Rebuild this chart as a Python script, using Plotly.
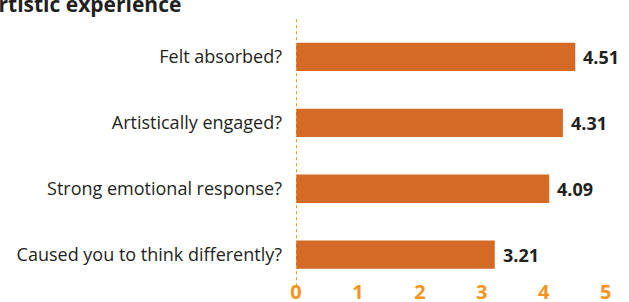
import plotly.graph_objects as go

categories = ["Caused you to think differently?", "Strong emotional response?",
              "Artistically engaged?", "Felt absorbed?"]
values = [3.21, 4.09, 4.31, 4.51]
value_labels = ["3.21", "4.09", "4.31", "4.51"]
tick_vals = [0, 1, 2, 3, 4, 5]
tick_text = ["0", "1", "2", "3", "4", "5"]
title_text = "Artistic experience"

W, H = 629, 302
L, R, T, B = 296, 11, 24, 21
pw = W - L - R
ph = H - T - B

fig = go.Figure()
fig.add_trace(go.Bar(
    y=categories, x=values, orientation="h",
    marker=dict(color="#d46a26", line=dict(width=0)),
    width=0.43, hoverinfo="skip",
))
for c, v, t in zip(categories, values, value_labels):
    fig.add_annotation(x=v, y=c, text="<b>" + t + "</b>", showarrow=False,
                       xanchor="left", xshift=6, bgcolor="white",
                       font=dict(family="Open Sans", size=18, color="#231f20"))

fig.add_shape(type="line", x0=0, x1=0, xref="x", yref="paper", y0=-0.02, y1=1.02,
              line=dict(color="#f7941d", width=2, dash="dot"))

fig.add_annotation(xref="paper", yref="paper", x=(-18 - L) / pw, y=1 + (T - 4) / ph,
                   xanchor="left", yanchor="middle", showarrow=False,
                   text="<b>" + title_text + "</b>",
                   font=dict(family="Open Sans", size=21, color="#231f20"))

fig.update_layout(
    width=W, height=H, margin=dict(l=L, r=R, t=T, b=B),
    paper_bgcolor="white", plot_bgcolor="white", showlegend=False,
    xaxis=dict(range=[0, 5.2], tickvals=tick_vals, ticktext=tick_text,
               showgrid=False, zeroline=False, showline=False, automargin=False,
               ticks="", ticklabelstandoff=-3,
               tickfont=dict(family="Open Sans", size=20, color="#f7941d",
                             weight="bold")),
    yaxis=dict(range=[-0.4, 3.5], showgrid=False, zeroline=False, showline=False,
               ticks="", ticklabelstandoff=13, automargin=False,
               tickfont=dict(family="Open Sans", size=18, color="#231f20")),
)
fig.write_html("out.html", config={"displayModeBar": False},
               post_script="document.body.style.margin='0';")
